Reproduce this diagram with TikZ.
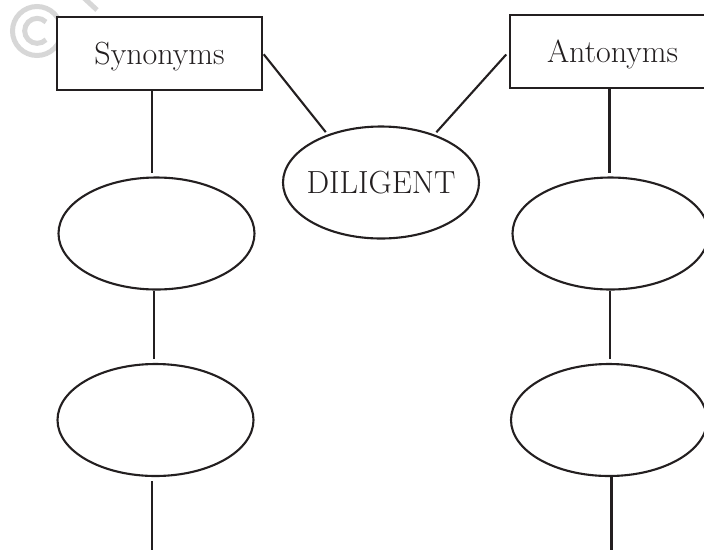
\documentclass[tikz,border=0pt]{standalone}
\usetikzlibrary{shapes.geometric}
\definecolor{ink}{RGB}{35,31,32}
\definecolor{wm}{RGB}{215,215,215}
\begin{document}
\begin{tikzpicture}[x=1pt,y=-1pt,
  lbl/.style={font=\fontsize{32}{38}\selectfont, text=ink, text height=22pt, text depth=0pt},
  box/.style={lbl, draw=ink, line width=2.2pt, fill=white, minimum width=205pt, minimum height=73pt, inner sep=0pt},
  oval/.style={lbl, ellipse, draw=ink, line width=2.1pt, minimum width=196pt, minimum height=112pt, inner sep=0pt},
  conn/.style={draw=ink, line width=2.1pt}]
\useasboundingbox (0,0) rectangle (704,550);
% watermark
\draw[wm, line width=5pt] (37,31) circle[radius=24.5pt];
\draw[wm, line width=5pt] (46,22) arc[start angle=45, end angle=315, radius=12.5pt];
\draw[wm, line width=5pt] (84,-2) -- (97,10);
% nodes
\node[box] (syn) at (159.5,53.5) {Synonyms};
\node[box] (ant) at (612.5,51.5) {Antonyms};
\node[oval, inner sep=-20pt] (dil) at (381,182.5) {DILIGENT};
\node[oval] (s1) at (156.5,233.5) {};
\node[oval] (s2) at (155.5,420) {};
\node[oval] (a1) at (610.5,233.5) {};
\node[oval] (a2) at (609,420) {};
\coordinate (sEnd) at (152,550);
\coordinate (aEnd) at (611.5,550);
% connectors
\draw[conn, shorten <=1pt, shorten >=3pt] (syn.east) -- (dil.138);
\draw[conn, shorten <=4pt, shorten >=3pt] (ant.west) -- (dil.42);
\draw[conn, shorten >=3pt] ([xshift=-7.5pt]syn.south) -- ([xshift=-7.5pt]syn.south |- s1.north);
\draw[conn, shorten >=3pt] ([xshift=-3pt]ant.south) -- ([xshift=-3pt]ant.south |- a1.north);
\draw[conn, shorten >=4pt] ([xshift=-2.5pt]s1.south) -- ([xshift=-2.5pt]s1.south |- s2.north);
\draw[conn, shorten >=4pt] ([xshift=-0.5pt]a1.south) -- ([xshift=-0.5pt]a1.south |- a2.north);
\draw[conn, shorten <=4pt] (s2.south -| sEnd) -- (sEnd);
\draw[conn] (a2.south -| aEnd) -- (aEnd);
\end{tikzpicture}
\end{document}
